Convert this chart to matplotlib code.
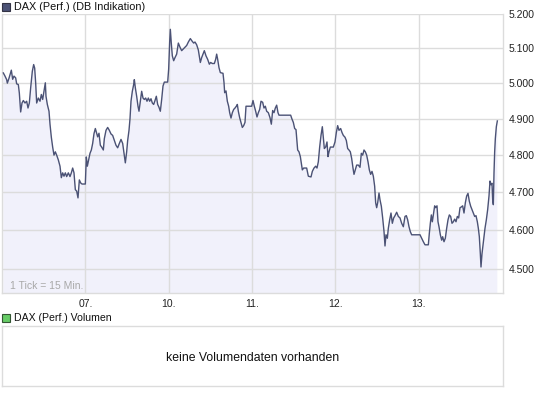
import matplotlib
matplotlib.use("Agg")
import matplotlib.pyplot as plt
from matplotlib.patches import Rectangle
from matplotlib.ticker import FixedLocator, NullLocator

# time axis: 100 units per trading day, starting at the open of the 06.
t = [
    1.6, 3.6, 5.6, 6.4, 8.4, 11.2, 12.8, 14.4, 16.4, 17.6, 19.6, 20.8, 22.4, 24.0, 25.6, 27.6,
    29.6, 31.2, 32.8, 34.4, 36.4, 38.0, 39.2, 40.4, 41.6, 43.6, 45.6, 47.2, 48.8, 50.4, 52.0, 52.8,
    54.4, 56.4, 57.6, 59.2, 60.8, 62.4, 64.0, 65.6, 67.6, 69.6, 71.2, 72.8, 74.4, 76.0, 77.6, 79.6,
    81.6, 83.2, 84.8, 86.4, 88.0, 89.6, 91.2, 92.8, 94.4, 96.0, 100.0, 101.2, 102.4, 104.0, 105.6,
    107.2, 108.8, 110.4, 112.0, 114.8, 116.4, 118.0, 119.6, 121.6, 122.8, 124.8, 126.8, 128.8,
    130.8, 132.8, 134.8, 136.8, 138.8, 140.8, 142.8, 144.8, 146.4, 148.0, 149.6, 150.8, 152.4,
    153.6, 154.8, 156.4, 158.0, 158.8, 160.0, 161.6, 163.2, 164.4, 166.0, 167.6, 169.2, 170.8,
    172.4, 174.0, 175.6, 177.2, 178.8, 180.4, 182.0, 183.6, 185.2, 186.8, 188.4, 190.0, 191.6,
    193.2, 194.8, 198.8, 200.0, 201.2, 202.0, 203.2, 204.4, 206.0, 207.6, 209.6, 211.6, 213.6,
    215.6, 217.6, 219.6, 221.6, 223.6, 226.0, 228.0, 230.0, 231.6, 233.6, 235.6, 238.0, 239.6,
    241.6, 242.8, 244.8, 246.8, 248.8, 250.4, 252.4, 254.8, 256.4, 257.6, 258.8, 260.4, 262.0,
    265.2, 266.4, 267.2, 268.8, 270.4, 272.0, 273.2, 274.8, 276.4, 278.0, 279.6, 281.2, 282.4,
    283.6, 285.2, 286.8, 288.4, 290.0, 291.6, 292.8, 299.6, 301.2, 302.8, 304.4, 306.0, 307.6,
    309.2, 310.8, 312.8, 314.4, 316.0, 317.6, 319.6, 321.6, 323.2, 324.8, 326.4, 328.0, 329.6,
    331.2, 332.4, 346.4, 348.0, 349.6, 351.2, 352.8, 354.8, 356.4, 358.0, 360.4, 362.0, 365.6,
    367.6, 370.8, 372.4, 374.4, 376.4, 378.0, 379.6, 381.2, 382.8, 384.4, 385.6, 386.8, 388.4,
    390.0, 391.2, 392.4, 394.0, 397.6, 399.6, 401.2, 402.8, 404.4, 406.4, 408.0, 409.6, 411.6,
    413.2, 414.8, 416.4, 418.0, 419.6, 421.2, 422.4, 424.0, 425.6, 427.6, 429.6, 431.2, 432.8,
    434.4, 436.0, 437.6, 439.2, 440.8, 442.4, 444.0, 445.6, 447.2, 448.4, 449.6, 450.8, 452.4,
    453.6, 455.2, 456.8, 458.4, 459.6, 460.8, 462.4, 463.6, 465.2, 466.8, 468.4, 470.0, 471.6,
    473.6, 475.6, 477.6, 479.6, 481.6, 483.6, 485.2, 486.8, 488.4, 490.0, 491.6, 501.6, 503.6,
    505.6, 507.6, 511.6, 512.8, 514.0, 515.2, 516.4, 518.0, 519.2, 520.4, 522.0, 523.2, 524.4,
    526.0, 527.6, 528.8, 530.4, 532.0, 533.6, 535.2, 536.8, 538.4, 540.0, 541.6, 543.2, 544.8,
    546.4, 548.0, 549.6, 551.2, 552.8, 554.4, 556.0, 557.6, 559.2, 560.8, 562.4, 564.0, 565.6,
    567.2, 568.8, 570.4, 571.6, 572.8, 574.0, 574.8, 576.0, 577.2, 578.4, 579.6, 581.2, 582.8,
    584.4, 585.6, 586.8, 588.0, 588.8, 589.6, 590.4, 591.2, 592.0, 593.2, 594.4,
]
dax = [
    5029, 5020, 5010, 5000, 5014, 5037, 5011, 5020, 5015, 4998, 4996, 4972, 4919, 4944, 4951, 4944,
    4949, 4930, 4944, 4987, 5034, 5053, 5043, 5001, 4944, 4958, 4949, 4968, 4954, 4977, 5001, 4963,
    4940, 4921, 4885, 4849, 4822, 4800, 4809, 4800, 4787, 4770, 4739, 4752, 4743, 4752, 4742, 4752,
    4742, 4752, 4765, 4752, 4707, 4703, 4685, 4733, 4725, 4722, 4722, 4795, 4770, 4787, 4805,
    4814, 4832, 4859, 4873, 4850, 4860, 4827, 4822, 4814, 4845, 4868, 4876, 4868,
    4858, 4854, 4840, 4827, 4820, 4832, 4843, 4832, 4805, 4779, 4809, 4840, 4868,
    4900, 4949, 4977, 4996, 5010, 4987, 4963, 4935, 4921, 4949, 4977, 4958, 4954,
    4958, 4949, 4958, 4949, 4956, 4944, 4940, 4951, 4963, 4940, 4932, 4921, 4954,
    4992, 5003, 5003, 5040, 5118, 5155, 5113, 5078, 5064, 5073, 5083, 5115, 5103,
    5093, 5098, 5103, 5108, 5118, 5128, 5121, 5115, 5118, 5110, 5095, 5059, 5073,
    5085, 5093, 5078, 5068, 5054, 5059, 5056, 5056, 5068, 5083, 5068, 5044, 5030,
    5028, 5002, 4973, 4978, 4949, 4935, 4917, 4902, 4917, 4926, 4930, 4935, 4940,
    4921, 4903, 4890, 4876, 4881, 4890, 4935, 4935, 4951, 4935, 4921, 4905, 4917,
    4926, 4949, 4946, 4930, 4935, 4921, 4917, 4903, 4885, 4923, 4917, 4930, 4938,
    4917, 4910, 4910, 4899, 4890, 4873, 4870, 4814, 4809, 4796, 4760, 4765, 4765,
    4743, 4741, 4756, 4765, 4770, 4765, 4782, 4822, 4854, 4878, 4849, 4818, 4822,
    4836, 4796, 4809, 4822, 4822, 4836, 4862, 4881, 4868, 4873, 4862, 4854, 4849,
    4840, 4818, 4814, 4809, 4791, 4765, 4748, 4760, 4773, 4773, 4767, 4805, 4800,
    4814, 4809, 4800, 4782, 4760, 4748, 4756, 4743, 4716, 4672, 4659, 4672, 4698,
    4680, 4663, 4632, 4597, 4559, 4588, 4579, 4605, 4627, 4645, 4618, 4632, 4638,
    4647, 4636, 4632, 4618, 4609, 4636, 4638, 4627, 4609, 4596, 4588, 4588, 4579,
    4570, 4562, 4562, 4592, 4618, 4640, 4622, 4645, 4664, 4659, 4664, 4622, 4609,
    4588, 4574, 4583, 4570, 4579, 4605, 4627, 4640, 4636, 4618, 4622, 4629, 4622,
    4636, 4632, 4659, 4661, 4664, 4645, 4672, 4690, 4697, 4676, 4663, 4654, 4645,
    4636, 4638, 4622, 4605, 4583, 4539, 4505, 4539, 4562, 4583, 4605, 4627, 4654,
    4690, 4730, 4720, 4724, 4680, 4667, 4752, 4809, 4845, 4878, 4894,
]

day_ticks = [100, 200, 300, 400, 500]
day_labels = ["07.", "10.", "11.", "12.", "13."]
price_ticks = [4500, 4600, 4700, 4800, 4900, 5000, 5100, 5200]
price_labels = ["4.500", "4.600", "4.700", "4.800", "4.900", "5.000", "5.100", "5.200"]

LINE = "#4b5275"
FILL = "#f1f1fb"
GRID = "#dcdcdc"
FONT = "Liberation Sans"

plt.rcParams["font.family"] = FONT
fig = plt.figure(figsize=(5.45, 3.97), dpi=100)
W, H = 545, 397

def box(x0, y0, x1, y1):
    # pixel box (top-left origin) -> figure fraction rect
    return [x0 / W, 1 - y1 / H, (x1 - x0) / W, (y1 - y0) / H]

ax = fig.add_axes(box(2, 14, 503, 293))
ax.fill_between(t, dax, 4000, color=FILL, lw=0, zorder=0.2)
ax.plot(t, dax, color=LINE, lw=1.0, zorder=3)
ax.set_yscale("log")
ax.set_ylim(4439, 5200)
ax.set_xlim(0, 601.2)
ax.yaxis.set_major_locator(FixedLocator(price_ticks))
ax.yaxis.set_minor_locator(NullLocator())
ax.set_yticklabels(price_labels)
ax.set_xticks(day_ticks)
ax.set_xticklabels(day_labels)
ax.yaxis.tick_right()
ax.tick_params(length=0, labelsize=7.5, colors="#222222", pad=4)
ax.tick_params(axis="x", pad=4)
ax.set_axisbelow(True)
ax.grid(True, color=GRID, lw=1)
for s in ax.spines.values():
    s.set_color(GRID)
    s.set_linewidth(1)
ax.spines["top"].set_visible(False)
ax.text(8 / 501, 7 / 279, "1 Tick = 15 Min.", transform=ax.transAxes,
        fontsize=7.5, color="#a8a8a8", va="center", ha="left")

# legend squares + titles
fig.add_artist(Rectangle((2 / W, 1 - 11 / H), 8 / W, 8 / H, transform=fig.transFigure,
                         facecolor="#4b5275", edgecolor="#333344", lw=0.8))
fig.text(14 / W, 1 - 7 / H, "DAX (Perf.) (DB Indikation)", fontsize=7.8,
         va="center", ha="left", color="#111111")
fig.add_artist(Rectangle((2 / W, 1 - 322 / H), 8 / W, 8 / H, transform=fig.transFigure,
                         facecolor="#66cc66", edgecolor="#335533", lw=0.8))
fig.text(14 / W, 1 - 318 / H, "DAX (Perf.) Volumen", fontsize=7.6,
         va="center", ha="left", color="#111111")

# empty volume panel
vax = fig.add_axes(box(2, 326, 503, 386))
vax.set_xticks([])
vax.set_yticks([])
for s in vax.spines.values():
    s.set_color(GRID)
    s.set_linewidth(1)
vax.text(0.5, 0.47, "keine Volumendaten vorhanden", transform=vax.transAxes,
         fontsize=8.8, ha="center", va="center", color="#111111")

fig.savefig("out.png", dpi=100)
